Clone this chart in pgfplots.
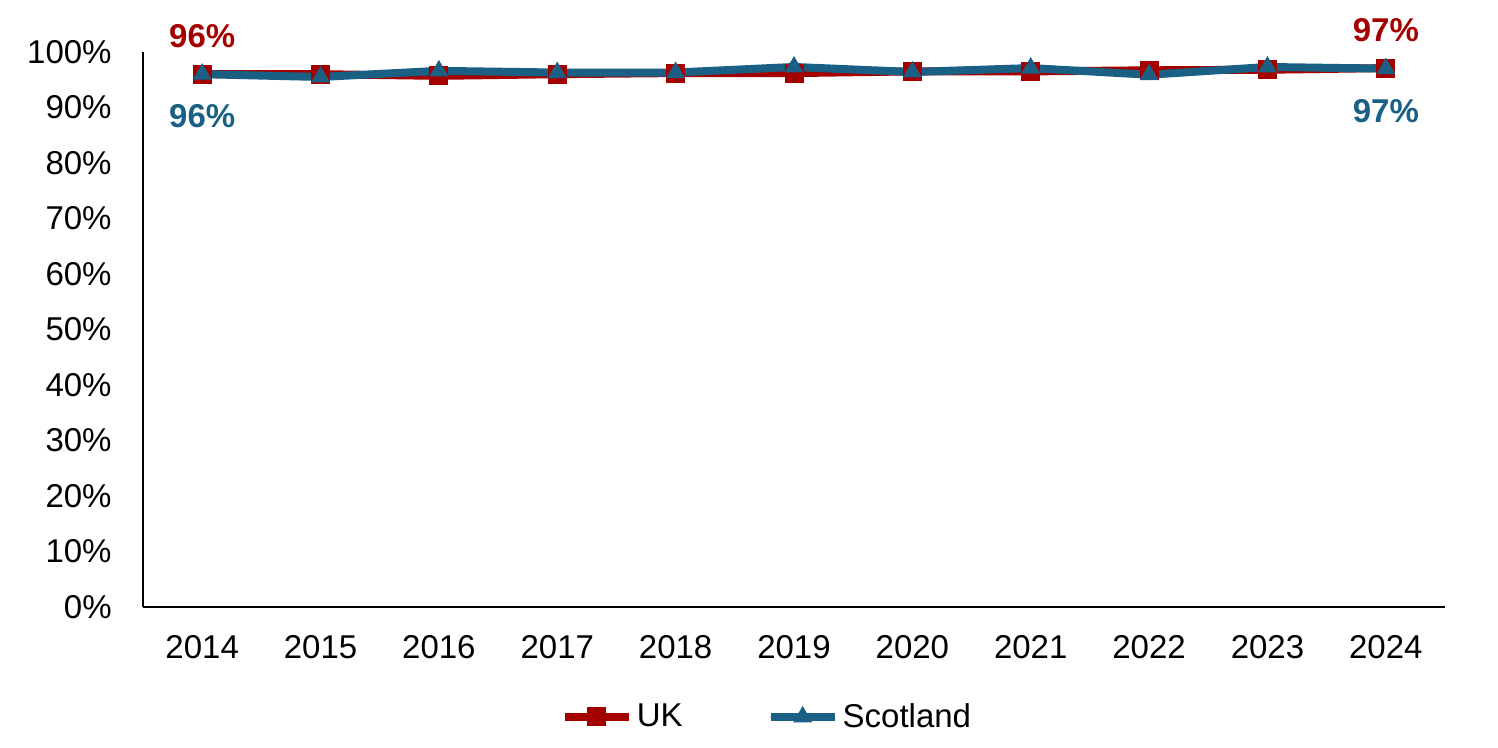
\documentclass[border=0pt]{standalone}
\usepackage{pgfplots}
\pgfplotsset{compat=1.18}
\usepackage{fontspec}
\setmainfont{Liberation Sans}
\definecolor{ukred}{RGB}{165,0,0}
\definecolor{scotblue}{RGB}{26,96,132}
\begin{document}
\begin{tikzpicture}
\begin{axis}[
    scale only axis,
    width=651pt, height=277.5pt,
    xmin=-0.5, xmax=10.5,
    ymin=0, ymax=100,
    axis x line*=bottom, axis y line*=left,
    axis line style={black, line width=1pt},
    major tick length=0pt,
    xtick={0,...,10},
    xticklabels={2014,2015,2016,2017,2018,2019,2020,2021,2022,2023,2024},
    ytick={0,10,...,100},
    yticklabels={0\%,10\%,20\%,30\%,40\%,50\%,60\%,70\%,80\%,90\%,100\%},
    tick label style={font=\fontsize{16.5}{20}\selectfont},
    yticklabel style={inner sep=0pt, xshift=-15.5pt},
    xticklabel style={inner sep=0pt, yshift=-14pt},
    legend columns=2,
    legend style={draw=none, at={(0.480,-0.198)}, anchor=center,
        font=\fontsize{16.5}{20}\selectfont,
        /tikz/every even column/.append style={column sep=40pt}},
    legend image code/.code={
        \draw[#1, line cap=round] (2pt,0pt) -- (30pt,0pt);
        \draw[#1, mark repeat=2, mark phase=2] plot coordinates {(0pt,0pt) (16pt,0pt) (32pt,0pt)};
    },
    clip=false,
]
\addplot[ukred, line width=4pt, mark=square*, mark size=4.5pt,
    mark options={solid, line width=0.5pt}] coordinates {
    (0,96.0) (1,96.0) (2,95.7) (3,96.0) (4,96.2) (5,96.2)
    (6,96.5) (7,96.5) (8,96.7) (9,96.8) (10,97.1)
};
\addlegendentry{UK}
\addplot[scotblue, line width=4pt, mark=triangle*, mark size=5pt,
    mark options={solid, line width=0.5pt}] coordinates {
    (0,96.0) (1,95.5) (2,96.6) (3,96.3) (4,96.3) (5,97.3)
    (6,96.4) (7,97.1) (8,95.9) (9,97.3) (10,97.0)
};
\addlegendentry{Scotland}
\node[ukred, font=\fontsize{16.5}{20}\selectfont\bfseries, yshift=19pt] at (axis cs:0,96.0) {96\%};
\node[ukred, font=\fontsize{16.5}{20}\selectfont\bfseries, yshift=19pt] at (axis cs:10,97.1) {97\%};
\node[scotblue, font=\fontsize{16.5}{20}\selectfont\bfseries, yshift=-21pt] at (axis cs:0,96.0) {96\%};
\node[scotblue, font=\fontsize{16.5}{20}\selectfont\bfseries, yshift=-21pt] at (axis cs:10,97.0) {97\%};
\end{axis}
\pgfresetboundingbox
\path[use as bounding box] (-71.5pt,-70.5pt) rectangle (677.5pt,303.5pt);
\end{tikzpicture}
\end{document}
